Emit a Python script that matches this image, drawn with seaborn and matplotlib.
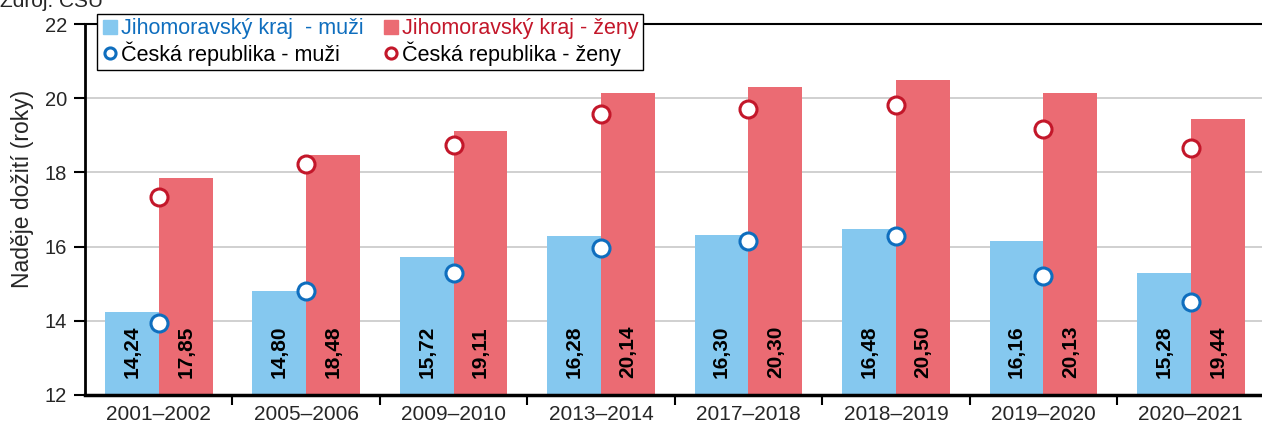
import matplotlib
matplotlib.use("Agg")
import matplotlib.pyplot as plt
import seaborn as sns
import pandas as pd
from matplotlib.lines import Line2D

periods = ["2001–2002", "2005–2006", "2009–2010", "2013–2014",
           "2017–2018", "2018–2019", "2019–2020", "2020–2021"]
jmk_men = [14.24, 14.80, 15.72, 16.28, 16.30, 16.48, 16.16, 15.28]
jmk_women = [17.85, 18.48, 19.11, 20.14, 20.30, 20.50, 20.13, 19.44]
cr_men = [13.95, 14.79, 15.30, 15.95, 16.15, 16.29, 15.22, 14.52]
cr_women = [17.34, 18.22, 18.74, 19.57, 19.71, 19.82, 19.17, 18.66]

lab_jm = "Jihomoravský kraj  - muži"
lab_jw = "Jihomoravský kraj - ženy"
lab_cm = "Česká republika - muži"
lab_cw = "Česká republika - ženy"

c_blue_bar = "#85C8EF"
c_red_bar = "#EB6B73"
c_blue_pt = "#0F6EBE"
c_red_pt = "#C3172A"

sns.set_style("white")
plt.rcParams["font.family"] = ["Liberation Sans", "DejaVu Sans"]

df = pd.DataFrame({
    "period": periods * 2,
    "value": jmk_men + jmk_women,
    "series": [lab_jm] * len(periods) + [lab_jw] * len(periods),
})

fig = plt.figure(figsize=(12.62, 4.28), dpi=100)
ax = fig.add_axes([85 / 1262, 1 - 395 / 428, 1 - 85 / 1262 + 0.002, (395 - 24) / 428])

sns.barplot(data=df, x="period", y="value", hue="series", order=periods,
            palette=[c_blue_bar, c_red_bar], width=0.73, gap=0, saturation=1,
            ax=ax, legend=False)

# bars start from the axis floor (12)
for p in ax.patches:
    h = p.get_height()
    p.set_y(12)
    p.set_height(h - 12)
    p.set_edgecolor("none")

for cont in ax.containers:
    for p, v in zip(cont.patches, cont.datavalues):
        ax.text(p.get_x() + p.get_width() / 2, 12.47,
                f"{v:.2f}".replace(".", ","), rotation=90, ha="center",
                va="bottom", fontsize=15, fontweight="bold", color="black")

sns.scatterplot(x=periods, y=cr_men, ax=ax, s=150, marker="o", color="white",
                edgecolor=c_blue_pt, linewidth=2.2, zorder=5, legend=False)
sns.scatterplot(x=periods, y=cr_women, ax=ax, s=150, marker="o", color="white",
                edgecolor=c_red_pt, linewidth=2.2, zorder=5, legend=False)

ax.set_ylim(12, 22)
ax.set_xlim(-0.5, 7.5)
ax.set_yticks([12, 14, 16, 18, 20, 22])
ax.yaxis.grid(True, color="#C8C8C8", linewidth=1.2)
ax.set_axisbelow(True)
ax.set_xlabel("")
ax.set_ylabel("Naděje dožití (roky)", fontsize=16.5)
ax.yaxis.set_label_coords(-0.043, 0.555)

ax.set_xticks(range(len(periods)))
ax.set_xticklabels(periods, fontsize=15)
ax.tick_params(axis="x", length=0, pad=7)
ax.set_xticks([i + 0.5 for i in range(len(periods) - 1)], minor=True)
ax.tick_params(axis="x", which="minor", length=7, width=1.5, direction="out", color="black")
ax.tick_params(axis="y", labelsize=14.5, length=8, width=1.5, direction="out", color="black", pad=5)
ax.yaxis.set_tick_params(which="both", left=True)
ax.xaxis.set_tick_params(which="minor", bottom=True)

for side in ["left", "bottom", "top"]:
    ax.spines[side].set_visible(True)
    ax.spines[side].set_color("black")
ax.spines["left"].set_linewidth(2)
ax.spines["bottom"].set_linewidth(2.5)
ax.spines["top"].set_linewidth(1.5)
ax.spines["right"].set_visible(False)

handles = [
    Line2D([], [], marker="s", linestyle="none", markersize=10,
           markerfacecolor=c_blue_bar, markeredgecolor=c_blue_bar),
    Line2D([], [], marker="s", linestyle="none", markersize=10,
           markerfacecolor=c_red_bar, markeredgecolor=c_red_bar),
    Line2D([], [], marker="o", linestyle="none", markersize=8,
           markerfacecolor="white", markeredgecolor=c_blue_pt, markeredgewidth=2.2),
    Line2D([], [], marker="o", linestyle="none", markersize=8,
           markerfacecolor="white", markeredgecolor=c_red_pt, markeredgewidth=2.2),
]
labels = [lab_jm, lab_jw, lab_cm, lab_cw]
order = [0, 2, 1, 3]
leg = ax.legend([handles[i] for i in order], [labels[i] for i in order], ncol=2,
                loc="upper left", bbox_to_anchor=(12 / 1177, 1 + 10 / 371),
                fontsize=15.5, frameon=True, fancybox=False, framealpha=1,
                edgecolor="black", handletextpad=0.1, handlelength=0.8,
                columnspacing=0.9, borderpad=0.2, labelspacing=0.1,
                borderaxespad=0)
leg.get_frame().set_linewidth(1.0)
leg.set_zorder(10)
text_colors = [c_blue_pt, "black", c_red_pt, "black"]
for t, c in zip(leg.get_texts(), text_colors):
    t.set_color(c)

fig.text(0.0, 1.0, "Zdroj: ČSÚ", fontsize=15, va="center", ha="left")

fig.savefig("out.png", dpi=100)
